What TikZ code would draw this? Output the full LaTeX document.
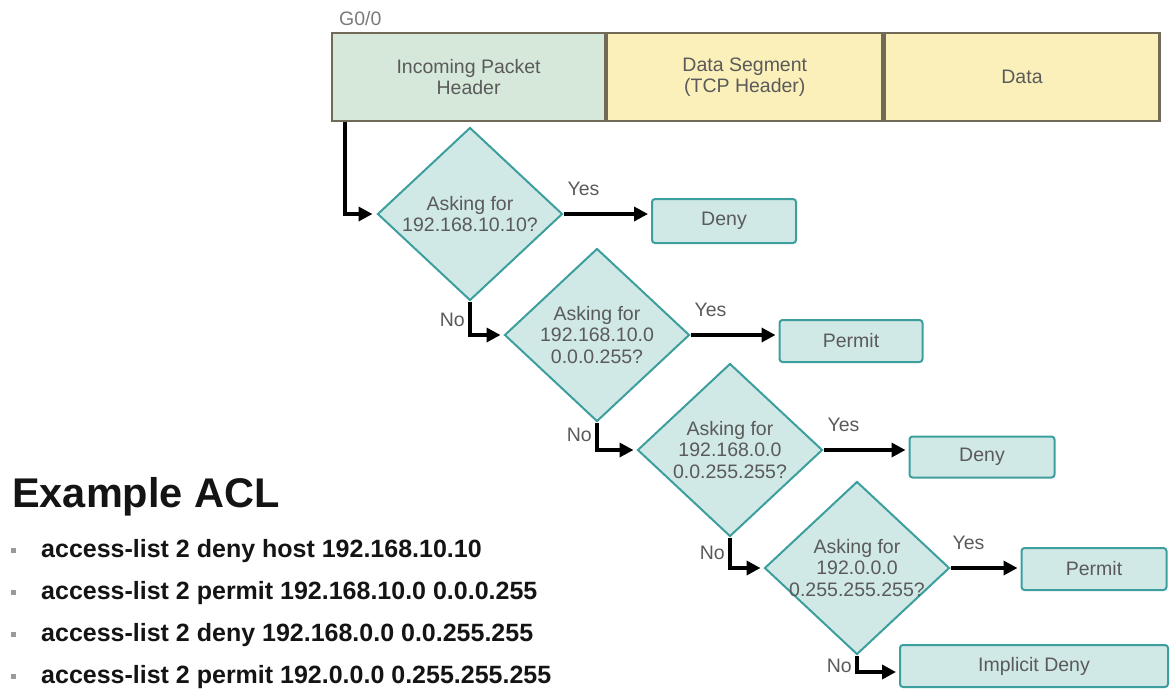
\documentclass[tikz,border=0pt]{standalone}
\usepackage{fontspec}
\setmainfont{Liberation Sans}
\usetikzlibrary{shapes.geometric,arrows.meta,calc}
\definecolor{tealline}{HTML}{3D9E9E}
\definecolor{tealfill}{HTML}{D0E8E6}
\definecolor{hdrgreen}{HTML}{D6E8DA}
\definecolor{hdryellow}{HTML}{FCF0BA}
\definecolor{hdrline}{HTML}{716A58}
\definecolor{labelgray}{HTML}{5A5A5A}
\definecolor{portgray}{HTML}{7A7A7A}
\definecolor{bulletgray}{HTML}{9A9A9A}
\definecolor{acltext}{HTML}{141414}

\begin{document}
\begin{tikzpicture}[x=1pt,y=-1pt,
  diag/.style={font=\fontsize{19.5}{21.5}\selectfont, text=labelgray},
  field/.style={diag, draw=hdrline, line width=2.2pt, minimum height=88pt,
    inner sep=0pt, align=center, anchor=north west},
  decision/.style={diamond, draw=tealline, fill=tealfill, line width=2pt,
    minimum width=185pt, minimum height=173pt, inner sep=0pt},
  qtext/.style={diag, align=center, inner sep=0pt},
  outcome/.style={diag, rectangle, rounded corners=3pt, draw=tealline,
    fill=tealfill, line width=2pt, inner sep=0pt},
  lbl/.style={diag, inner sep=0pt},
  flow/.style={line width=4.2pt, -{Triangle[length=14pt,width=14pt]},
    shorten >=3pt},
  acl/.style={font=\fontsize{25}{30}\selectfont\bfseries, text=acltext,
    anchor=base west, inner sep=0pt},
  bullet/.style={fill=bulletgray, minimum size=5pt, inner sep=0pt},
]
\useasboundingbox (0,0) rectangle (1176,689);

% packet header fields
\node[lbl, anchor=west, text=portgray] (port) at (339,19) {G0/0};
\node[field, fill=hdrgreen, minimum width=273pt] (hdr1) at (331,32)
  {Incoming Packet\\Header};
\node[field, fill=hdryellow, minimum width=275pt] (hdr2) at (hdr1.north east)
  {Data Segment\\(TCP Header)};
\node[field, fill=hdryellow, minimum width=275pt] (hdr3) at (hdr2.north east)
  {Data};

% decisions
\node[decision] (d1) at (470,214) {};
\node[qtext] (q1) at (d1.center) {Asking for\\192.168.10.10?};
\node[decision] (d2) at (597,335) {};
\node[qtext] (q2) at (d2.center) {Asking for\\192.168.10.0\\0.0.0.255?};
\node[decision] (d3) at (730,450) {};
\node[qtext] (q3) at (d3.center) {Asking for\\192.168.0.0\\0.0.255.255?};
\node[decision] (d4) at (857,568) {};
\node[qtext] (q4) at (d4.center) {Asking for\\192.0.0.0\\0.255.255.255?};

% outcomes
\node[outcome, minimum width=144pt, minimum height=44pt] (o1) at (724,221) {Deny};
\node[outcome, minimum width=143pt, minimum height=42pt] (o2) at (851,341) {Permit};
\node[outcome, minimum width=145pt, minimum height=41pt] (o3) at (982,457) {Deny};
\node[outcome, minimum width=145pt, minimum height=42pt] (o4) at (1094,569) {Permit};
\node[outcome, minimum width=268pt, minimum height=42pt] (o5) at (1034,666) {Implicit Deny};

% flow
\draw[flow, shorten >=4pt] ([xshift=14pt]hdr1.south west) |- (d1.west);
\draw[flow] (d1.east) -- (d1.east -| o1.west);
\draw[flow] (d2.east) -- (d2.east -| o2.west);
\draw[flow] (d3.east) -- (d3.east -| o3.west);
\draw[flow] (d4.east) -- (d4.east -| o4.west);
\draw[flow] (d1.south) |- (d2.west);
\draw[flow] (d2.south) |- (d3.west);
\draw[flow] (d3.south) |- (d4.west);
\draw[flow] (d4.south) |- ([yshift=-6pt]o5.west);

% branch labels
\node[lbl] (y1) at ($(d1.east)+(20,-25)$) {Yes};
\node[lbl] (y2) at ($(d2.east)+(20,-25)$) {Yes};
\node[lbl] (y3) at ($(d3.east)+(20,-25)$) {Yes};
\node[lbl] (y4) at ($(d4.east)+(18,-25)$) {Yes};
\node[lbl, anchor=east] (n1) at ($(d1.south |- d2.west)+(-5,-15)$) {No};
\node[lbl, anchor=east] (n2) at ($(d2.south |- d3.west)+(-5,-15)$) {No};
\node[lbl, anchor=east] (n3) at ($(d3.south |- d4.west)+(-5,-15)$) {No};
\node[lbl, anchor=east] (n4) at ($(d4.south)+(-5,10)$) {No};

% example access list
\node[font=\fontsize{41.5}{48}\selectfont\bfseries, text=acltext,
  anchor=base west, inner sep=0pt] (title) at (12,507) {Example ACL};
\node[bullet] (b1) at (13.5,550.5) {};
\node[acl] (r1) at (41,557) {access-list 2 deny host 192.168.10.10};
\node[bullet] (b2) at (13.5,592.5) {};
\node[acl] (r2) at (41,599) {access-list 2 permit 192.168.10.0 0.0.0.255};
\node[bullet] (b3) at (13.5,634.5) {};
\node[acl] (r3) at (41,641) {access-list 2 deny 192.168.0.0 0.0.255.255};
\node[bullet] (b4) at (13.5,676.5) {};
\node[acl] (r4) at (41,683) {access-list 2 permit 192.0.0.0 0.255.255.255};
\end{tikzpicture}
\end{document}
